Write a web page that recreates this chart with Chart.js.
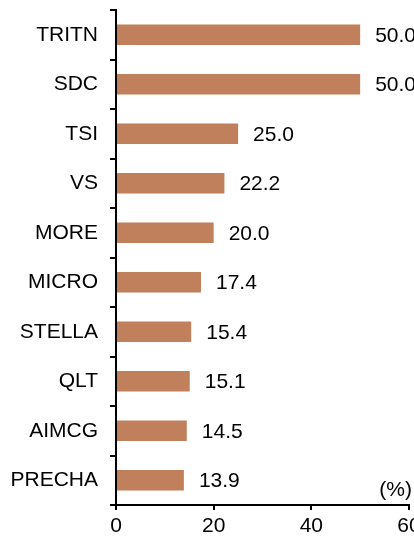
<!DOCTYPE html>
<html>
<head>
<meta charset="utf-8">
<script src="https://cdn.jsdelivr.net/npm/chart.js@4/dist/chart.umd.min.js"></script>
<style>
  html, body { margin: 0; padding: 0; background: #fff; overflow: hidden; }
  #wrap { width: 414px; height: 537px; position: relative; }
</style>
</head>
<body>
<div id="wrap"><canvas id="ratioChart"></canvas></div>
<script>
// datos del grafico
const categories = ['TRITN', 'SDC', 'TSI', 'VS', 'MORE', 'MICRO', 'STELLA', 'QLT', 'AIMCG', 'PRECHA']
const values = [50.0, 50.0, 25.0, 22.2, 20.0, 17.4, 15.4, 15.1, 14.5, 13.9]
const xTicks = [0, 20, 40, 60]
const unitLabel = '(%)'

const FONT = 'Liberation Sans, Arial, sans-serif'

// etiquetas de valor al final de cada barra y la unidad
const barLabels = {
    id: 'barLabels',
    afterDatasetsDraw(chart) {
        const ctx = chart.ctx
        const meta = chart.getDatasetMeta(0)
        ctx.save()
        ctx.font = '21px ' + FONT
        ctx.fillStyle = '#000'
        ctx.textBaseline = 'middle'
        ctx.textAlign = 'left'
        meta.data.forEach(function (bar, i) {
            ctx.fillText(values[i].toFixed(1), bar.x + 15, bar.y + 1)
        })
        ctx.textAlign = 'right'
        ctx.textBaseline = 'alphabetic'
        ctx.fillText(unitLabel, chart.chartArea.right + 3, chart.chartArea.bottom - 9)
        ctx.restore()
    }
}

document.addEventListener('DOMContentLoaded', function () {
    const el = document.getElementById('ratioChart')
    new Chart(el, {
        type: 'bar',
        data: {
            labels: categories,
            datasets: [{
                data: values,
                backgroundColor: '#C0805B',
                borderWidth: 0,
                barPercentage: 0.41,
                categoryPercentage: 1
            }]
        },
        options: {
            indexAxis: 'y',
            responsive: true,
            maintainAspectRatio: false,
            animation: false,
            layout: { padding: { top: 10, right: 5, left: 0, bottom: 0 } },
            plugins: {
                legend: { display: false },
                tooltip: { enabled: false }
            },
            scales: {
                x: {
                    min: 0,
                    max: 60,
                    afterBuildTicks: function (s) {
                        s.ticks = xTicks.map(function (v) { return { value: v } })
                    },
                    afterFit: function (s) {
                        s.height = 32
                        s.paddingLeft = 0
                        s.paddingRight = 0
                    },
                    grid: {
                        drawOnChartArea: false,
                        drawTicks: true,
                        tickLength: 5,
                        color: '#000',
                        lineWidth: 2
                    },
                    border: { display: true, color: '#000', width: 2 },
                    ticks: {
                        padding: 4,
                        color: '#000',
                        font: { family: FONT, size: 21 },
                        maxRotation: 0
                    }
                },
                y: {
                    afterFit: function (s) {
                        s.width = 116
                        s.paddingTop = 0
                        s.paddingBottom = 0
                    },
                    grid: {
                        offset: true,
                        drawOnChartArea: false,
                        drawTicks: true,
                        tickLength: 6,
                        color: '#000',
                        lineWidth: 2
                    },
                    border: { display: true, color: '#000', width: 2 },
                    ticks: {
                        padding: 12,
                        color: '#000',
                        font: { family: FONT, size: 21 }
                    }
                }
            }
        },
        plugins: [barLabels]
    })
})
</script>
</body>
</html>
